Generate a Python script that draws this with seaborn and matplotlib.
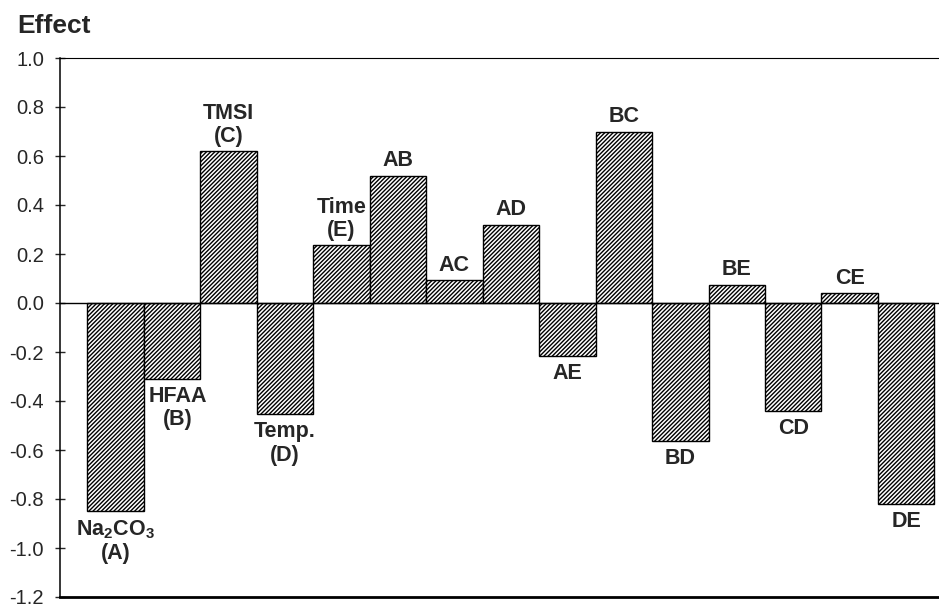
import matplotlib
matplotlib.use("Agg")
import matplotlib.pyplot as plt
import seaborn as sns
import pandas as pd

# Effect of each factor / interaction
terms = ["A", "B", "C", "D", "E", "AB", "AC", "AD", "AE", "BC", "BD", "BE", "CD", "CE", "DE"]
effects = [-0.85, -0.31, 0.62, -0.455, 0.235, 0.52, 0.095, 0.32, -0.215,
           0.70, -0.565, 0.075, -0.44, 0.04, -0.82]
bar_labels = ["Na$_\\mathregular{2}$CO$_\\mathregular{3}$\n(A)", "HFAA\n(B)", "TMSI\n(C)",
              "Temp.\n(D)", "Time\n(E)", "AB", "AC", "AD", "AE", "BC", "BD", "BE",
              "CD", "CE", "DE"]
y_ticks = [-1.2, -1.0, -0.8, -0.6, -0.4, -0.2, 0.0, 0.2, 0.4, 0.6, 0.8, 1.0]

sns.set_style("white")
plt.rcParams["font.family"] = ["Liberation Sans", "DejaVu Sans"]
plt.rcParams["hatch.linewidth"] = 1.0
plt.rcParams["mathtext.fontset"] = "custom"
plt.rcParams["mathtext.rm"] = "Liberation Sans:bold"

df = pd.DataFrame({"term": terms, "effect": effects})

fig = plt.figure(figsize=(9.39, 6.05), dpi=100)
ax = fig.add_axes([60 / 939, 8 / 605, 1 - 60 / 939, (597 - 58) / 605])

sns.barplot(data=df, x="term", y="effect", color="white", edgecolor="black",
            linewidth=1.0, width=1.0, saturation=1, ax=ax)
for bar in ax.patches:
    bar.set_hatch("////////")

ax.axhline(0, color="black", lw=1.0, zorder=3)

# labels above positive / below negative bars
for i, (val, lab) in enumerate(zip(effects, bar_labels)):
    if val >= 0:
        ax.annotate(lab, (i, val), xytext=(0, 3), textcoords="offset points",
                    ha="center", va="bottom", fontsize=15.5, fontweight="bold",
                    linespacing=1.15)
    else:
        dx = 4 if i == 1 else 0
        ax.annotate(lab, (i, val), xytext=(dx, -5), textcoords="offset points",
                    ha="center", va="top", fontsize=15.5, fontweight="bold",
                    linespacing=1.15)

ax.set_ylim(-1.2, 1.0)
ax.set_xlim(-0.98, 14.58)
ax.set_yticks(y_ticks)
ax.set_yticklabels([f"{t:.1f}" for t in y_ticks])
ax.set_xticks([])
ax.set_xlabel("")
ax.set_ylabel("")
ax.tick_params(axis="y", direction="inout", length=7, width=1, pad=8, labelsize=14.5,
               left=True)

ax.spines["right"].set_visible(False)
ax.spines["top"].set_linewidth(0.8)
ax.spines["left"].set_linewidth(1.1)
ax.spines["bottom"].set_linewidth(2.0)
for s in ax.spines.values():
    s.set_color("black")

fig.text(17 / 939, 1 - 33 / 605, "Effect", fontsize=19, fontweight="bold",
         ha="left", va="baseline")

fig.savefig("out.png", dpi=100)
